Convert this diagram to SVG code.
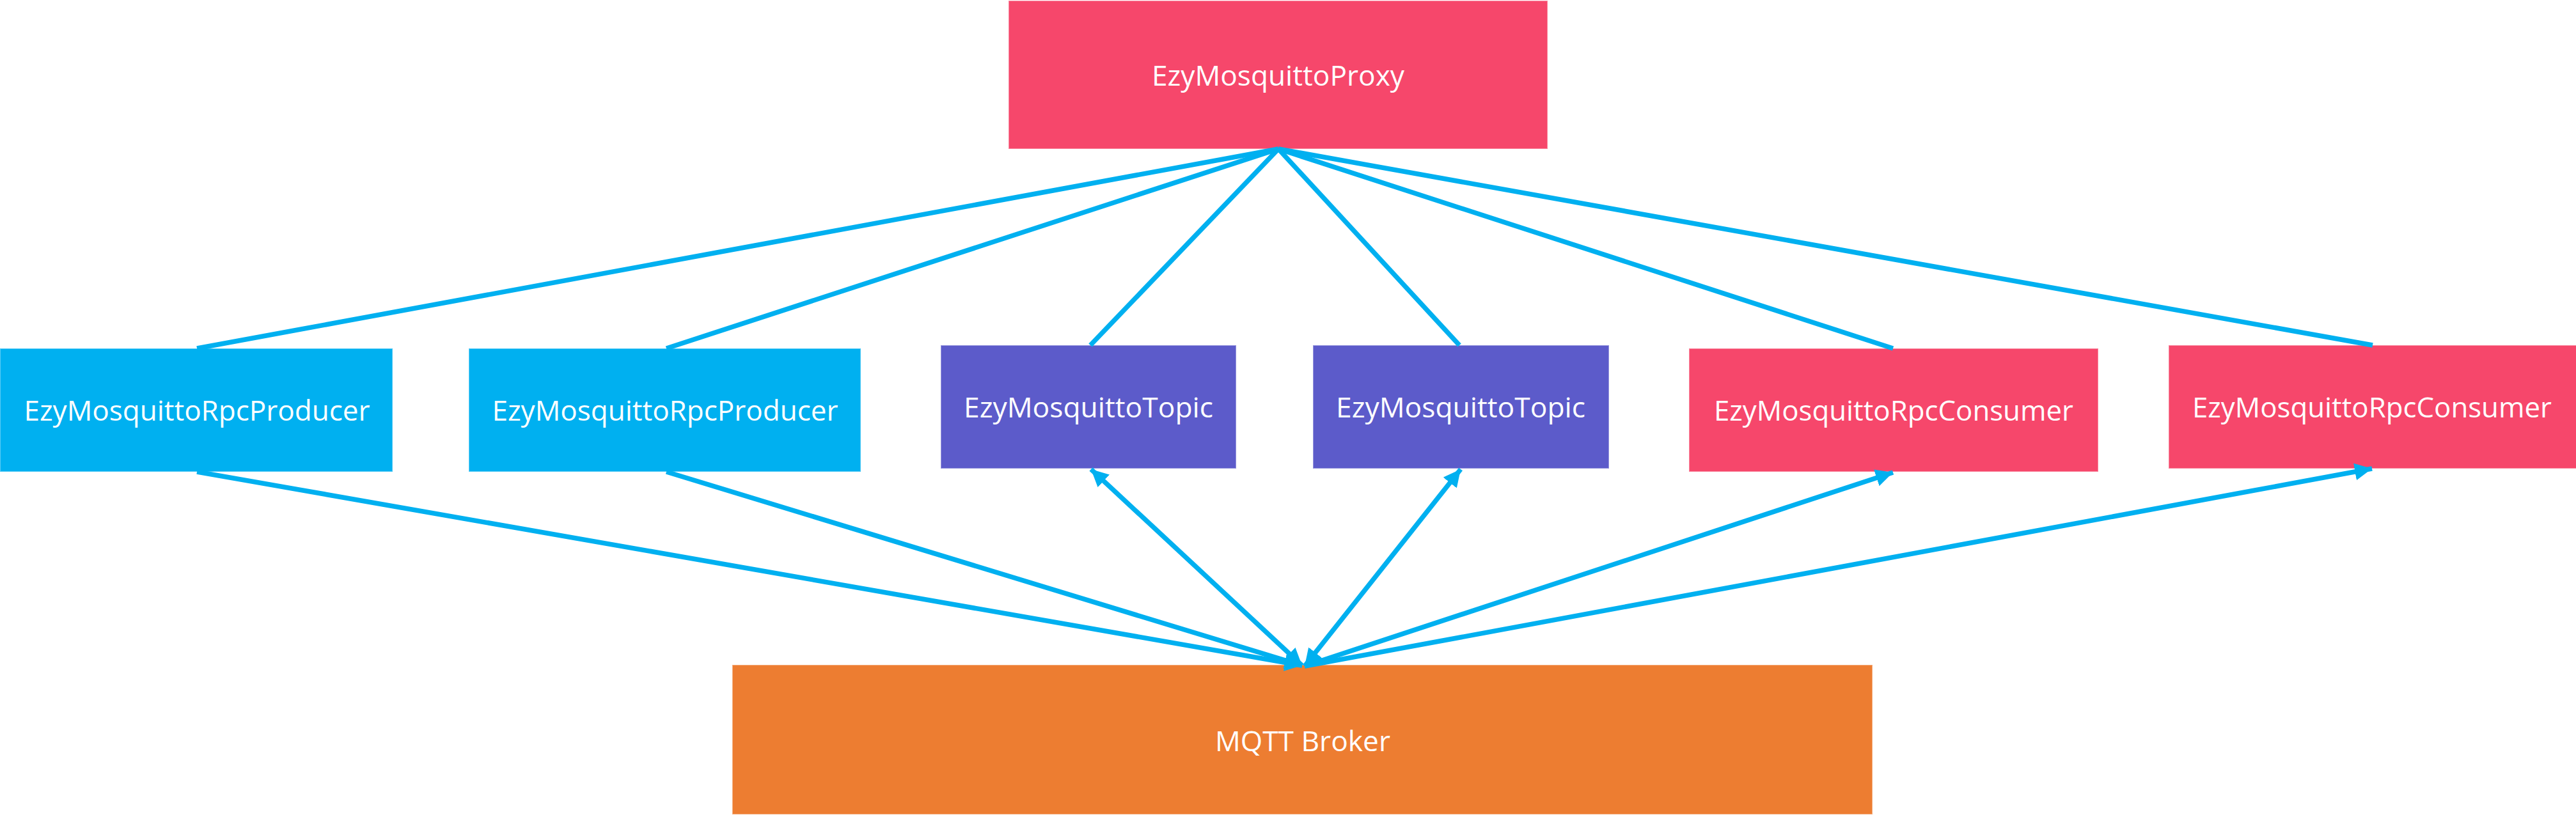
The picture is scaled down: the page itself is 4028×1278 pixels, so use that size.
<svg xmlns="http://www.w3.org/2000/svg" width="4028" height="1278" viewBox="0 0 4028 1278">
  <style>
    .box { stroke: #ffffff; stroke-opacity: 0.35; stroke-width: 2; }
    .pink { fill: #F6476B; }
    .blue { fill: #00B0F0; }
    .purple { fill: #5C5BCA; }
    .orange { fill: #ED7D31; }
    .lbl { font-family: "Open Sans", "Noto Sans", "Liberation Sans", sans-serif; font-size: 44px; fill: #ffffff; text-anchor: middle; }
    .conn { stroke: #00B0F0; stroke-width: 7.5; fill: none; stroke-linecap: butt; }
  </style>
  <defs>
    <marker id="ah" viewBox="0 0 10 10" refX="10" refY="5" markerWidth="3.6" markerHeight="3.6" orient="auto-start-reverse" markerUnits="strokeWidth">
      <path d="M0,0 L10,5 L0,10 Z" fill="#00B0F0"/>
    </marker>
  </defs>

  <g id="node-proxy">
    <rect class="box pink" x="1577" y="1" width="843" height="232"/>
    <text class="lbl" x="1998.5" y="134" textLength="395" lengthAdjust="spacingAndGlyphs">EzyMosquittoProxy</text>
  </g>
  <g id="node-producer1">
    <rect class="box blue" x="0" y="545" width="614" height="193"/>
    <text class="lbl" x="308" y="658" textLength="541" lengthAdjust="spacingAndGlyphs">EzyMosquittoRpcProducer</text>
  </g>
  <g id="node-producer2">
    <rect class="box blue" x="733" y="545" width="613" height="193"/>
    <text class="lbl" x="1040" y="658" textLength="541" lengthAdjust="spacingAndGlyphs">EzyMosquittoRpcProducer</text>
  </g>
  <g id="node-topic1">
    <rect class="box purple" x="1471" y="540" width="462" height="193"/>
    <text class="lbl" x="1702" y="653" textLength="390" lengthAdjust="spacingAndGlyphs">EzyMosquittoTopic</text>
  </g>
  <g id="node-topic2">
    <rect class="box purple" x="2053" y="540" width="463" height="193"/>
    <text class="lbl" x="2284" y="653" textLength="390" lengthAdjust="spacingAndGlyphs">EzyMosquittoTopic</text>
  </g>
  <g id="node-consumer1">
    <rect class="box pink" x="2641" y="545" width="640" height="193"/>
    <text class="lbl" x="2961" y="658" textLength="562" lengthAdjust="spacingAndGlyphs">EzyMosquittoRpcConsumer</text>
  </g>
  <g id="node-consumer2">
    <rect class="box pink" x="3391" y="540" width="640" height="193"/>
    <text class="lbl" x="3709" y="653" textLength="562" lengthAdjust="spacingAndGlyphs">EzyMosquittoRpcConsumer</text>
  </g>
  <g id="node-broker">
    <rect class="box orange" x="1145" y="1040" width="1783" height="234"/>
    <text class="lbl" x="2037" y="1175" textLength="274" lengthAdjust="spacingAndGlyphs">MQTT Broker</text>
  </g>

  <g id="connectors">
    <!-- proxy to nodes -->
    <line class="conn" x1="1999" y1="233" x2="308" y2="545"/>
    <line class="conn" x1="1999" y1="233" x2="1042" y2="545"/>
    <line class="conn" x1="1999" y1="233" x2="1705" y2="540"/>
    <line class="conn" x1="1999" y1="233" x2="2282" y2="540"/>
    <line class="conn" x1="1999" y1="233" x2="2960" y2="545"/>
    <line class="conn" x1="1999" y1="233" x2="3710" y2="540"/>
    <!-- nodes to broker -->
    <line class="conn" x1="308" y1="738" x2="2036" y2="1041" marker-end="url(#ah)"/>
    <line class="conn" x1="1042" y1="738" x2="2036" y2="1041" marker-end="url(#ah)"/>
    <line class="conn" x1="1706" y1="734" x2="2036" y2="1041" marker-start="url(#ah)" marker-end="url(#ah)"/>
    <line class="conn" x1="2284" y1="734" x2="2040" y2="1042" marker-start="url(#ah)" marker-end="url(#ah)"/>
    <line class="conn" x1="2040" y1="1042" x2="2960" y2="739" marker-end="url(#ah)"/>
    <line class="conn" x1="2040" y1="1042" x2="3709" y2="733" marker-end="url(#ah)"/>
  </g>
</svg>
